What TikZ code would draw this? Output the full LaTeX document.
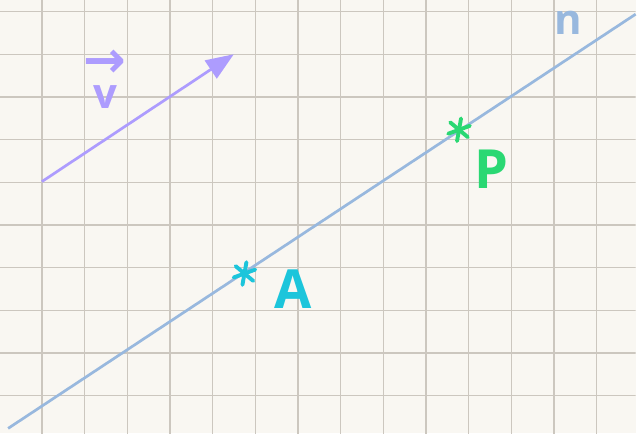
\documentclass[tikz,border=0pt]{standalone}
\usepackage{fontspec}
\setmainfont{Open Sans}
\newfontfamily\symfont{DejaVu Sans}
\usetikzlibrary{arrows.meta,positioning}

\definecolor{paperbg}{HTML}{F9F7F2}
\definecolor{gridgray}{HTML}{CCC7BF}
\definecolor{nblue}{HTML}{98B8DE}
\definecolor{vlilac}{HTML}{AD9CFE}
\definecolor{pgreen}{HTML}{2AD873}
\definecolor{acyan}{HTML}{1CC5DB}

\begin{document}
\begin{tikzpicture}[
    gridline/.style={draw=gridgray, line width=0.9pt},
    linen/.style={draw=nblue, line width=1.8pt},
    vecarrow/.style={draw=vlilac, line width=1.8pt, -{Triangle[length=6.5mm, width=5mm]}},
    ptmark/.style={circle, inner sep=0pt, minimum size=1pt},
    ptlabel/.style={font=\bfseries\fontsize{36}{36}\selectfont, inner sep=0pt, on grid}]
    % paper and grid
    \fill[paperbg] (0,0) rectangle (14.9,10.152);
    \begin{scope}
      \clip (0,0) rectangle (14.9,10.152);
      \draw[gridline, shift={(-0.017,-0.122)}] (-1,-1) grid (16,12);
    \end{scope}
    % line n
    \coordinate (n0) at (0.19,0.11);
    \coordinate (n1) at (14.9,9.82);
    \draw[linen] (n0) -- (n1);
    \node[text=nblue, font=\bfseries\fontsize{28}{28}\selectfont, inner sep=0pt] (nlab) at (13.33,9.62) {n};
    % points on n
    \node[ptmark] (A) at (5.73,3.74) {};
    \node[ptmark] (P) at (10.76,7.11) {};
    \foreach \pt/\col in {A/acyan, P/pgreen}
      \foreach \ang in {80,20,-40}
        \draw[\col, line width=2.6pt, line cap=round]
          ([shift={(\ang:0.27)}]\pt.center) -- ([shift={(\ang+180:0.27)}]\pt.center);
    \node[ptlabel, text=acyan, below right=0.37 and 1.15 of A] (Alab) {A};
    \node[ptlabel, text=pgreen, below right=0.93 and 0.77 of P] (Plab) {P};
    % direction vector
    \coordinate (v0) at (0.982,5.895);
    \coordinate (v1) at (5.48,8.88);
    \draw[vecarrow] (v0) -- (v1);
    \node[text=vlilac, align=center, inner sep=0pt, font=\bfseries\fontsize{28}{21}\selectfont] (vlab) at (2.46,8.3) {{\symfont\bfseries\fontsize{34}{21}\selectfont →}\\v};
\end{tikzpicture}
\end{document}
